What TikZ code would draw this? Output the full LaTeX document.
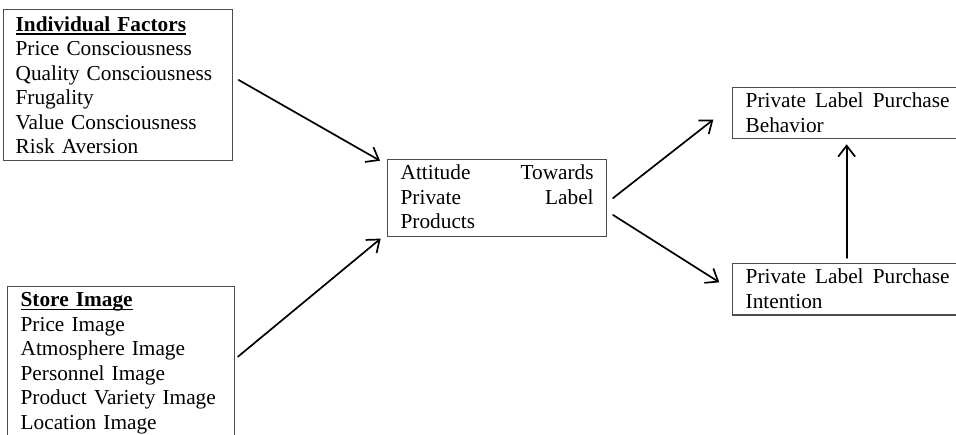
\documentclass[tikz,border=0pt]{standalone}
\usepackage{fontspec}
\setmainfont{Liberation Serif}
\usetikzlibrary{arrows.meta}
% bold heading with a rule set close under the baseline
\newcommand\headline[1]{\setbox0\hbox{\textbf{#1}}\rlap{\rule[-3.4pt]{\wd0}{1.4pt}}\box0}
\begin{document}
\begin{tikzpicture}[x=1pt,y=1pt,
  font=\fontsize{21.3}{24.5}\selectfont,
  box/.style={rectangle, draw=black!70, line width=1.3pt, anchor=north west,
    inner ysep=0pt, align=left},
  link/.style={line width=1.7pt, line cap=round,
    -{Straight Barb[length=11pt,width=17pt]}}]
\useasboundingbox (0,0) rectangle (956,-435);
\clip (0,0) rectangle (956,-435);

% antecedents
\node[box, inner xsep=12pt, text width=205pt, text height=21.5pt, text depth=129.5pt]
  (ind) at (3,-9) {\headline{Individual Factors}\\ Price Consciousness\\
  Quality Consciousness\\ Frugality\\ Value Consciousness\\ Risk Aversion};
\node[box, inner xsep=13pt, text width=201pt, text height=20pt, text depth=131pt]
  (store) at (7,-286) {\headline{Store Image}\\ Price Image\\ Atmosphere Image\\
  Personnel Image\\ Product Variety Image\\ Location Image};

% mediator
\node[box, inner xsep=13pt, text width=193pt, text height=20pt, text depth=57pt]
  (att) at (387,-159) {Attitude\hfill Towards\\ Private\hfill Label\\ Products};

% outcomes
\node[box, inner xsep=13pt, text width=204pt, text height=20pt, text depth=31pt]
  (beh) at (732,-87) {Private\hfill Label\hfill Purchase\\ Behavior};
\node[box, inner xsep=13pt, text width=204pt, text height=20pt, text depth=31.5pt]
  (int) at (732,-263) {Private\hfill Label\hfill Purchase\\ Intention};

% paths
\draw[link] ([shift={(5.3,5.2)}]ind.east) -- ([shift={(-7,-1.7)}]att.north west);
\draw[link] ([shift={(2.7,5.5)}]store.east) -- ([shift={(-6.3,-1.3)}]att.south west);
\draw[link] ([shift={(5.7,0)}]att.east) -- ([shift={(-18.7,-6.5)}]beh.west);
\draw[link] ([shift={(5.7,-16.8)}]att.east) -- ([shift={(-12.7,7.1)}]int.west);
\draw[link] ([shift={(-1,5)}]int.north) -- ([shift={(-1,-5)}]beh.south);
\end{tikzpicture}
\end{document}
